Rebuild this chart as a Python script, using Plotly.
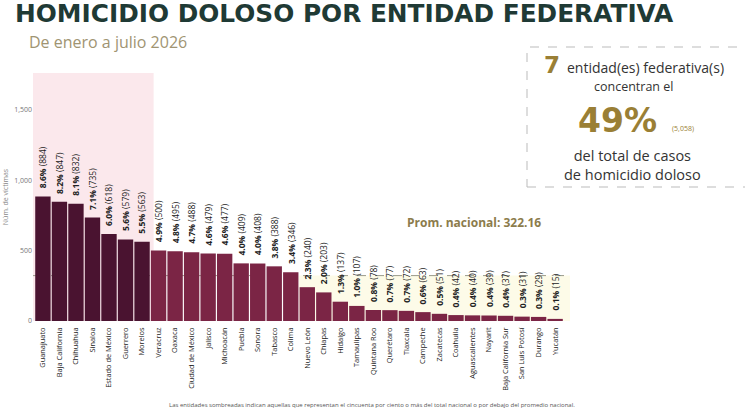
import plotly.graph_objects as go

# data
estados = ['Guanajuato', 'Baja California', 'Chihuahua', 'Sinaloa', 'Estado de México',
           'Guerrero', 'Morelos', 'Veracruz', 'Oaxaca', 'Ciudad de México', 'Jalisco',
           'Michoacán', 'Puebla', 'Sonora', 'Tabasco', 'Colima', 'Nuevo León', 'Chiapas',
           'Hidalgo', 'Tamaulipas', 'Quintana Roo', 'Querétaro', 'Tlaxcala', 'Campeche',
           'Zacatecas', 'Coahuila', 'Aguascalientes', 'Nayarit', 'Baja California Sur',
           'San Luis Potosí', 'Durango', 'Yucatán']
victimas = [884, 847, 832, 735, 618, 579, 563, 500, 495, 488, 479, 477, 409, 408, 388,
            346, 240, 203, 137, 107, 78, 77, 72, 63, 51, 42, 40, 39, 37, 31, 29, 15]
porcentaje = [8.6, 8.2, 8.1, 7.1, 6.0, 5.6, 5.5, 4.9, 4.8, 4.7, 4.6, 4.6, 4.0, 4.0, 3.8,
              3.4, 2.3, 2.0, 1.3, 1.0, 0.8, 0.7, 0.7, 0.6, 0.5, 0.4, 0.4, 0.4, 0.4, 0.3,
              0.3, 0.1]
promedio = 322.16
n_top = 7
pct_top = 49
casos_top = 5058

DARK = '#4a1330'
WINE = '#7b2545'
GOLD = '#9a7f35'
GREEN = '#1f3a35'
FONT = 'Open Sans'
HEAVY = 'DejaVu Sans'

W, H = 745, 412
# plot area in pixels
PL, PT, PW, PH = 33, 73, 537, 248


def px(x, y):
    return (x - PL) / PW, (PT + PH - y) / PH


colors = [DARK if i < n_top else WINE for i in range(len(estados))]

bars = go.Bar(
    x=list(range(len(estados))), y=victimas, marker_color=colors,
    marker_line_width=0, showlegend=False, hoverinfo='x+y',
)

fig = go.Figure(bars)

# value labels above the bars
for i, (p, v) in enumerate(zip(porcentaje, victimas)):
    fig.add_annotation(x=i, y=v, xref='x', yref='y', text='<b>%.1f%%</b> (%s)' % (p, f'{v:,}'),
                       textangle=-90, showarrow=False, xanchor='center', yanchor='bottom',
                       yshift=6, font=dict(size=8.5, color='#222', family=FONT))

ymax = 1760
xmax = 31.9
first_low = next(i for i, v in enumerate(victimas) if v < promedio)

fig.add_shape(type='rect', xref='x', yref='y', x0=-0.6, x1=n_top - 0.3, y0=0, y1=ymax,
              fillcolor='#fbe8ec', line_width=0, layer='below')
fig.add_shape(type='rect', xref='x', yref='y', x0=first_low - 0.5, x1=xmax, y0=0, y1=promedio,
              fillcolor='#fdfbe8', line_width=0, layer='below')
fig.add_shape(type='line', xref='x', yref='y', x0=-0.6, x1=xmax, y0=promedio, y1=promedio,
              line=dict(color='#9a9a8a', width=1, dash='dash'), layer='below')
# info box
bx0, by0 = px(527, 187)
bx1, by1 = px(760, 47)
fig.add_shape(type='rect', xref='paper', yref='paper', x0=bx0, x1=bx1, y0=by0, y1=by1,
              line=dict(color='#bbbbbb', width=1, dash='dash'))

ann = [
    dict(pos=(13, 13), xanchor='left', text='<b>HOMICIDIO DOLOSO POR ENTIDAD FEDERATIVA</b>',
         font=dict(size=24.8, color=GREEN, family=HEAVY)),
    dict(pos=(27, 42), xanchor='left', text='De enero a julio 2026',
         font=dict(size=16, color='#a09472', family=FONT)),
    dict(pos=(562, 65), xanchor='right', text='<b>%d</b>' % n_top,
         font=dict(size=23, color=GOLD, family=HEAVY)),
    dict(pos=(565, 67), xanchor='left', text='entidad(es) federativa(s)',
         font=dict(size=14, color='#333', family=FONT)),
    dict(pos=(633, 87), text='concentran el', font=dict(size=12.5, color='#333', family=FONT)),
    dict(pos=(617, 120), text='<b>%d%%</b>' % pct_top,
         font=dict(size=33, color=GOLD, family=HEAVY)),
    dict(pos=(683, 128), text='(%s)' % f'{casos_top:,}', font=dict(size=7, color=GOLD, family=FONT)),
    dict(pos=(632, 165), text='del total de casos<br>de homicidio doloso',
         font=dict(size=14.5, color='#333', family=FONT)),
    dict(pos=(474, 222), text='<b>Prom. nacional: %.2f</b>' % promedio,
         font=dict(size=12, color='#8c7c4c', family=FONT)),
    dict(pos=(372, 405), text='Las entidades sombreadas indican aquellas que representan el cincuenta por ciento o más del total nacional o por debajo del promedio nacional.',
         font=dict(size=6, color='#555', family=FONT)),
]
for a in ann:
    a['x'], a['y'] = px(*a.pop('pos'))
    a.update(xref='paper', yref='paper', showarrow=False, yanchor='middle',
             xanchor=a.get('xanchor', 'center'))
    fig.add_annotation(**a)

fig.update_layout(
    width=W, height=H,
    margin=dict(l=PL, r=W - PL - PW, t=PT, b=H - PT - PH),
    paper_bgcolor='white', plot_bgcolor='rgba(0,0,0,0)',
    bargap=0.07,
    font=dict(family=FONT),
    xaxis=dict(tickvals=list(range(len(estados))), ticktext=estados, tickangle=-90,
               range=[-0.6, xmax], showgrid=False, zeroline=False, showline=False,
               automargin=False, ticklen=0, ticklabelstandoff=4,
               tickfont=dict(size=7.4, color='#222', family=FONT)),
    yaxis=dict(range=[0, ymax], tickvals=[0, 500, 1000, 1500], tickformat=',',
               showgrid=False, zeroline=False, showline=False, automargin=False,
               tickfont=dict(size=7, color='#777', family=FONT),
               title=dict(text='Núm. de víctimas', font=dict(size=7, color='#888'), standoff=4)),
)

fig.write_html('out.html', config={'displayModeBar': False},
               post_script="document.body.style.margin='0';")
